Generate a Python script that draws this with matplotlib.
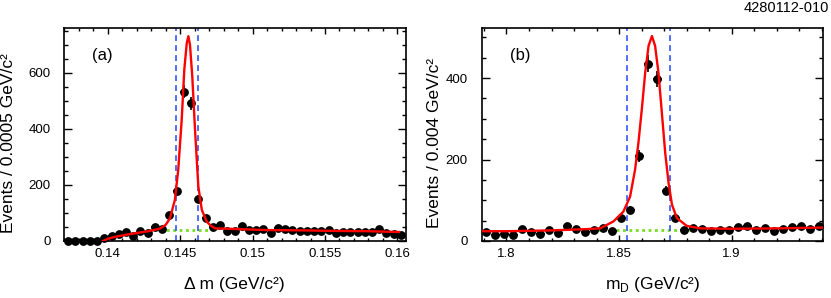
import numpy as np
import matplotlib.pyplot as plt
from matplotlib.ticker import MultipleLocator

plt.rcParams['font.family'] = ['Liberation Sans', 'DejaVu Sans']

# ---- panel (a): delta m ----
dm_lo, dm_bin = 0.137, 0.0005
dm_counts = [0, 0, 0, 0, 0, 10, 19, 24, 33, 19, 36, 30, 51, 42, 93, 177, 533, 491,
             149, 81, 51, 56, 37, 37, 54, 38, 38, 42, 30, 45, 44, 39, 37, 36, 35, 35,
             39, 27, 33, 33, 33, 33, 32, 42, 27, 24, 20]
dm_fit_x = [0.13966, 0.1400, 0.1405, 0.1410, 0.1418, 0.1428, 0.14359, 0.1440, 0.14429,
            0.14463, 0.14486, 0.1451, 0.14528, 0.14545, 0.14556, 0.14567, 0.14583,
            0.14602, 0.14625, 0.14649, 0.14683, 0.1471, 0.14741, 0.14868, 0.1510,
            0.15331, 0.15562, 0.15794, 0.16011]
dm_fit_y = [0, 8, 15, 20, 27, 35, 44, 58, 81, 147, 254, 433, 612, 707, 731, 701, 588,
            397, 194, 111, 69, 55, 45, 43, 39, 38, 36, 35, 32]
dm_bkg_x = [0.1436, 0.1474]
dm_bkg_y = [41, 41]
dm_window = [0.1447, 0.1462]

# ---- panel (b): m_D ----
md_lo, md_bin = 1.789, 0.004
md_counts = [21, 15, 18, 15, 29, 21, 18, 27, 19, 36, 29, 21, 26, 33, 25, 56, 76, 208,
             435, 397, 123, 57, 26, 32, 30, 25, 27, 27, 34, 38, 27, 32, 24, 29, 34, 38,
             30, 38]
md_fit_x = [1.789, 1.80, 1.82, 1.835, 1.8416, 1.8475, 1.8519, 1.8549, 1.8571, 1.8586,
            1.8601, 1.8616, 1.8631, 1.8646, 1.8660, 1.8675, 1.8690, 1.8705, 1.8720,
            1.8735, 1.8757, 1.8801, 1.8860, 1.90, 1.92, 1.9407]
md_fit_y = [24, 24, 26, 29, 31, 48, 72, 109, 175, 241, 323, 413, 479, 503, 479, 413,
            315, 216, 142, 89, 56, 37, 31, 30, 31, 33]
md_bkg_x = [1.840, 1.883]
md_bkg_y = [27, 27]
md_window = [1.8535, 1.8725]

fig = plt.figure(figsize=(8.31, 2.98), dpi=100)
ax1 = fig.add_axes([0.0776, 0.1913, 0.411, 0.7164])
ax2 = fig.add_axes([0.5797, 0.1913, 0.411, 0.7164])


def draw(ax, lo, width, counts, fx, fy, bx, by, window):
    counts = np.array(counts, dtype=float)
    centers = lo + width * (np.arange(len(counts)) + 0.5)
    ax.errorbar(centers, counts, yerr=np.sqrt(counts), xerr=width / 2, fmt='o',
                color='black', ms=5.3, elinewidth=1.2, capsize=0, clip_on=False,
                zorder=3)
    ax.plot(bx, by, color='#77dd22', lw=2, ls=(0, (1, 1.3)), zorder=2)
    for w in window:
        ax.axvline(w, color='#3355ff', lw=1.2, ls=(0, (3.5, 2.5)), zorder=2)
    ax.plot(fx, fy, color='red', lw=1.7, zorder=4)


draw(ax1, dm_lo, dm_bin, dm_counts, dm_fit_x, dm_fit_y, dm_bkg_x, dm_bkg_y, dm_window)
draw(ax2, md_lo, md_bin, md_counts, md_fit_x, md_fit_y, md_bkg_x, md_bkg_y, md_window)

ax1.set_xlim(0.137, 0.1606)
ax1.set_ylim(0, 762)
ax1.set_xticks([0.14, 0.145, 0.15, 0.155, 0.16])
ax1.set_xticklabels(['0.14', '0.145', '0.15', '0.155', '0.16'])
ax1.xaxis.set_minor_locator(MultipleLocator(0.001))
ax1.yaxis.set_major_locator(MultipleLocator(200))
ax1.yaxis.set_minor_locator(MultipleLocator(50))

ax2.set_xlim(1.789, 1.9407)
ax2.set_ylim(0, 524)
ax2.set_xticks([1.8, 1.85, 1.9])
ax2.set_xticklabels(['1.8', '1.85', '1.9'])
ax2.xaxis.set_minor_locator(MultipleLocator(0.01))
ax2.yaxis.set_major_locator(MultipleLocator(200))
ax2.yaxis.set_minor_locator(MultipleLocator(50))

for ax in (ax1, ax2):
    for s in ax.spines.values():
        s.set_linewidth(1.2)
    ax.tick_params(which='both', direction='in', top=True, right=True,
                   labelsize=9.5, width=1.0)
    ax.tick_params(axis='x', which='major', length=4.5, pad=5)
    ax.tick_params(axis='x', which='minor', length=2.5)
    ax.tick_params(axis='y', which='major', length=6, pad=10)
    ax.tick_params(axis='y', which='minor', length=3)

ax1.set_ylabel('Events / 0.0005 GeV/c²', fontsize=12.5, va='center')
ax1.yaxis.set_label_coords(-0.1625, 0.461)
ax1.set_xlabel('Δ m (GeV/c²)', fontsize=12.5, va='center')
ax1.xaxis.set_label_coords(0.496, -0.205)
ax1.text(0.11, 0.871, '(a)', transform=ax1.transAxes, fontsize=12,
         ha='center', va='center')

ax2.set_ylabel('Events / 0.004 GeV/c²', fontsize=12.5, va='center')
ax2.yaxis.set_label_coords(-0.1396, 0.461)
ax2.set_xlabel(r'm$_{\mathregular{D}}$ (GeV/c²)', fontsize=12.5, va='center')
ax2.xaxis.set_label_coords(0.5, -0.205)
ax2.text(0.112, 0.871, '(b)', transform=ax2.transAxes, fontsize=12,
         ha='center', va='center')

fig.text(0.998, 0.995, '4280112-010', ha='right', va='top', fontsize=10.5)

fig.savefig('out.png', dpi=100)
